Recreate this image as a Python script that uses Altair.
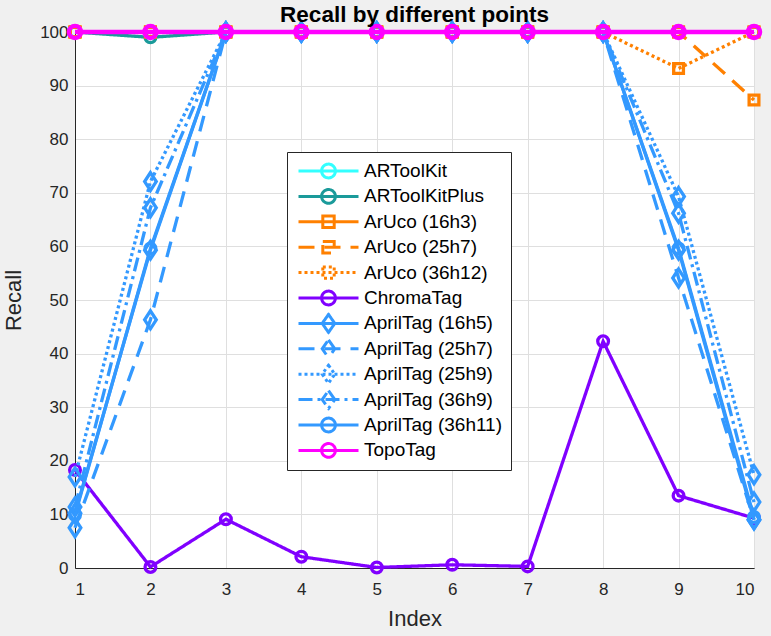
import altair as alt
import pandas as pd

# ---- data ----
index = [1, 2, 3, 4, 5, 6, 7, 8, 9, 10]
series_names = ["ARToolKit", "ARToolKitPlus", "ArUco (16h3)", "ArUco (25h7)", "ArUco (36h12)",
                "ChromaTag", "AprilTag (16h5)", "AprilTag (25h7)", "AprilTag (25h9)",
                "AprilTag (36h9)", "AprilTag (36h11)", "TopoTag"]
artoolkit = [100, 100, 100, 100, 100, 100, 100, 100, 100, 100]
artoolkitplus = [100, 99.0, 100, 100, 100, 100, 100, 100, 100, 100]
aruco_16h3 = [100, 100, 100, 100, 100, 100, 100, 100, 100, 100]
aruco_25h7 = [100, 100, 100, 100, 100, 100, 100, 100, 100, 87.3]
aruco_36h12 = [100, 100, 100, 100, 100, 100, 100, 100, 93.2, 100]
chromatag = [18.3, 0.2, 9.1, 2.1, 0.1, 0.6, 0.3, 42.3, 13.5, 9.3]
apriltag_16h5 = [10.2, 59.3, 100, 100, 100, 100, 100, 100, 59.3, 9.0]
apriltag_25h7 = [7.5, 46.3, 100, 100, 100, 100, 100, 100, 54.1, 9.0]
apriltag_25h9 = [17.0, 72.1, 100, 100, 100, 100, 100, 100, 69.3, 17.4]
apriltag_36h9 = [11.4, 67.2, 100, 100, 100, 100, 100, 100, 66.2, 12.3]
apriltag_36h11 = [9.9, 59.6, 100, 100, 100, 100, 100, 100, 59.6, 9.5]
topotag = [100, 100, 100, 100, 100, 100, 100, 100, 100, 100]

values = [artoolkit, artoolkitplus, aruco_16h3, aruco_25h7, aruco_36h12, chromatag,
          apriltag_16h5, apriltag_25h7, apriltag_25h9, apriltag_36h9, apriltag_36h11, topotag]

# ---- styles ----
colors = ["#33ffff", "#1a9a9a", "#ff8000", "#ff8000", "#ff8000", "#8000ff",
          "#3399ff", "#3399ff", "#3399ff", "#3399ff", "#3399ff", "#ff00ff"]
dashes = [[1, 0], [1, 0], [1, 0], [16, 10], [3, 3], [1, 0],
          [1, 0], [16, 10], [3, 3], [14, 5, 3, 5], [1, 0], [1, 0]]
kinds = ["circle", "circle", "square", "square", "square", "circle",
         "diamond", "diamond", "diamond", "diamond", "circle", "circle"]
widths = [3.3, 3.3, 3.3, 3.3, 3.3, 3.3, 3.3, 3.3, 3.3, 3.3, 3.3, 4.3]

diamond_path = "M0,-1L0.65,0L0,1L-0.65,0Z"
marker_shape = {"circle": "circle", "square": "square", "diamond": diamond_path}
marker_size = {"circle": 115, "square": 95, "diamond": 320}
legend_path = {
    "circle": "M-1,0L1,0M-0.23,0A0.23,0.23 0 1,0 0.23,0A0.23,0.23 0 1,0 -0.23,0",
    "square": "M-1,0L1,0M-0.19,-0.19L0.19,-0.19L0.19,0.19L-0.19,0.19Z",
    "diamond": "M-1,0L1,0M0,-0.3L0.21,0L0,0.3L-0.21,0Z",
}

rows = []
for name, vals in zip(series_names, values):
    for i, v in zip(index, vals):
        rows.append({"series": name, "index": i, "recall": v})
df = pd.DataFrame(rows)

FONT = "Liberation Sans"
xenc = alt.X("index:Q", title="Index",
             scale=alt.Scale(domain=[1, 10], nice=False),
             axis=alt.Axis(values=index, format="d", grid=True, ticks=False,
                           labelFontSize=17, labelPadding=13, titleFontSize=22,
                           titlePadding=11, titleFontWeight="normal"))
yenc = alt.Y("recall:Q", title="Recall",
             scale=alt.Scale(domain=[0, 100], nice=False),
             axis=alt.Axis(values=[0, 10, 20, 30, 40, 50, 60, 70, 80, 90, 100], grid=True,
                           ticks=False, labelFontSize=17, labelPadding=7, titleFontSize=22,
                           titlePadding=14, titleFontWeight="normal"))

legend_props = dict(
    title=None, orient="none", legendX=212, legendY=120,
    padding=8, strokeColor="#262626", fillColor="white",
    labelFont=FONT, labelFontSize=19, labelColor="#000000",
    symbolSize=3600, symbolStrokeWidth=3, symbolOpacity=1, clipHeight=22,
    rowPadding=3.4, labelOffset=4, symbolOffset=2)

base = alt.Chart(df)

# legend-only layer (draws nothing, supplies the legend)
legend_layer = base.transform_filter("datum.recall < -1000").mark_point(
    filled=False, strokeWidth=3, opacity=1
).encode(
    x=xenc, y=yenc,
    color=alt.Color("series:N", sort=series_names,
                    scale=alt.Scale(domain=series_names, range=colors),
                    legend=alt.Legend(**legend_props)),
    shape=alt.Shape("series:N", sort=series_names,
                    scale=alt.Scale(domain=series_names, range=[legend_path[k] for k in kinds]),
                    legend=alt.Legend(**legend_props)),
    strokeDash=alt.StrokeDash("series:N", sort=series_names,
                              scale=alt.Scale(domain=series_names, range=dashes),
                              legend=alt.Legend(**legend_props)),
)

layers = [legend_layer]
for name, col, dash, kind, w in zip(series_names, colors, dashes, kinds, widths):
    sub = base.transform_filter(alt.datum.series == name)
    line = sub.mark_line(color=col, strokeDash=dash, strokeWidth=w).encode(x=xenc, y=yenc)
    pts = sub.mark_point(shape=marker_shape[kind], filled=False, color=col, strokeWidth=w,
                         size=marker_size[kind] * (1.3 if w > 4 else 1.0), opacity=1).encode(x=xenc, y=yenc)
    layers += [line, pts]

chart = alt.layer(*layers).properties(
    width=679, height=536,
    autosize=alt.AutoSizeParams(type="none"),
    padding={"left": 75, "top": 32, "right": 17, "bottom": 68},
    background="#f0f0f0",
    title=alt.TitleParams("Recall by different points", font=FONT, fontSize=22.5,
                          fontWeight="bold", color="#000000", anchor="middle", offset=-10),
).configure_view(
    fill="white", stroke="#262626", strokeWidth=1
).configure_axis(
    labelFont=FONT, titleFont=FONT, labelColor="#262626", titleColor="#262626",
    gridColor="#dfdfdf", gridWidth=1, domainColor="#262626", domainWidth=1
)

chart.save("out.html", embed_options={"renderer": "svg", "actions": False})
